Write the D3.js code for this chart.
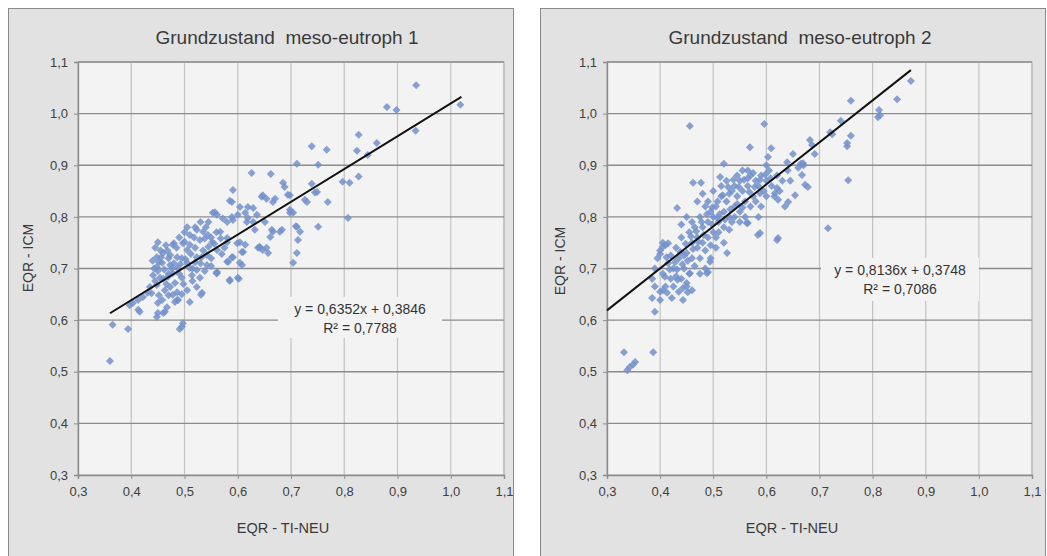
<!DOCTYPE html>
<html>
<head>
<meta charset="utf-8">
<script src="https://cdn.jsdelivr.net/npm/d3@7"></script>
<style>
  body { margin: 0; background: #fff; }
  svg { display: block; font-family: "Liberation Sans", Arial, sans-serif; }
</style>
</head>
<body>
<div id="chart"></div>
<script>
const axisTicks = [0.3, 0.4, 0.5, 0.6, 0.7, 0.8, 0.9, 1.0, 1.1];
const titles = ["Grundzustand  meso-eutroph 1", "Grundzustand  meso-eutroph 2"];
const xLabel = "EQR - TI-NEU";
const yLabel = "EQR - ICM";

// regression: [slope, intercept, r2, xFrom, xTo]
const fit1 = [0.6352, 0.3846, 0.7788, 0.36, 1.02];
const fit2 = [0.8136, 0.3748, 0.7086, 0.30, 0.872];

const points1 = [
  [0.935,1.055],[1.018,1.017],[0.880,1.013],[0.898,1.007],[0.934,0.967],[0.827,0.959],[0.861,0.943],
  [0.824,0.928],[0.844,0.920],[0.739,0.937],[0.767,0.930],[0.711,0.903],[0.751,0.901],[0.827,0.878],
  [0.797,0.868],[0.810,0.866],[0.739,0.864],[0.626,0.885],[0.662,0.883],[0.685,0.866],[0.688,0.858],
  [0.745,0.847],[0.726,0.833],[0.769,0.829],[0.694,0.843],[0.591,0.852],[0.645,0.839],[0.654,0.835],
  [0.666,0.829],[0.698,0.814],[0.704,0.808],[0.807,0.798],[0.751,0.781],[0.711,0.781],[0.717,0.771],
  [0.713,0.755],[0.711,0.730],[0.704,0.711],[0.641,0.742],[0.654,0.740],[0.666,0.771],[0.683,0.775],
  [0.632,0.775],[0.629,0.790],[0.553,0.808],[0.589,0.829],[0.749,0.848],[0.698,0.842],[0.585,0.831],
  [0.604,0.819],[0.619,0.819],[0.629,0.817],[0.730,0.829],[0.572,0.797],[0.589,0.800],[0.614,0.808],
  [0.619,0.798],[0.698,0.808],[0.709,0.782],[0.661,0.761],[0.679,0.771],[0.638,0.740],[0.647,0.736],
  [0.657,0.730],[0.580,0.751],[0.604,0.751],[0.610,0.732],[0.591,0.722],[0.580,0.713],[0.604,0.711],
  [0.647,0.842],[0.670,0.835],[0.557,0.809],[0.561,0.804],[0.600,0.804],[0.636,0.804],[0.580,0.790],
  [0.591,0.794],[0.617,0.790],[0.651,0.790],[0.664,0.775],[0.523,0.775],[0.535,0.771],[0.544,0.765],
  [0.567,0.771],[0.510,0.765],[0.450,0.751],[0.480,0.749],[0.478,0.746],[0.497,0.749],[0.510,0.746],
  [0.529,0.755],[0.552,0.751],[0.580,0.759],[0.599,0.749],[0.614,0.746],[0.642,0.740],[0.448,0.722],
  [0.460,0.730],[0.473,0.726],[0.486,0.722],[0.505,0.736],[0.523,0.722],[0.542,0.726],[0.561,0.736],
  [0.589,0.722],[0.608,0.732],[0.448,0.703],[0.458,0.711],[0.473,0.707],[0.486,0.701],[0.505,0.711],
  [0.510,0.701],[0.523,0.697],[0.542,0.707],[0.561,0.693],[0.582,0.713],[0.608,0.707],[0.441,0.687],
  [0.454,0.682],[0.469,0.684],[0.478,0.691],[0.495,0.682],[0.514,0.687],[0.529,0.682],[0.561,0.691],
  [0.585,0.678],[0.600,0.682],[0.435,0.664],[0.448,0.668],[0.463,0.658],[0.473,0.664],[0.486,0.654],
  [0.505,0.658],[0.523,0.664],[0.422,0.645],[0.431,0.653],[0.458,0.639],[0.478,0.649],[0.488,0.639],
  [0.510,0.635],[0.533,0.653],[0.403,0.633],[0.450,0.633],[0.467,0.625],[0.482,0.635],[0.416,0.616],
  [0.450,0.614],[0.463,0.616],[0.445,0.740],[0.455,0.735],[0.465,0.745],[0.440,0.715],[0.450,0.695],
  [0.470,0.720],[0.490,0.760],[0.500,0.770],[0.520,0.780],[0.530,0.790],[0.540,0.780],[0.550,0.760],
  [0.560,0.770],[0.575,0.740],[0.520,0.740],[0.535,0.735],[0.550,0.720],[0.495,0.720],[0.480,0.710],
  [0.490,0.690],[0.515,0.700],[0.530,0.710],[0.460,0.680],[0.470,0.690],
  [0.443,0.700],[0.452,0.712],[0.462,0.698],[0.476,0.700],[0.492,0.708],[0.502,0.718],[0.512,0.728],
  [0.520,0.712],[0.532,0.722],[0.545,0.742],[0.556,0.748],[0.538,0.758],[0.518,0.760],[0.500,0.752],
  [0.485,0.740],[0.468,0.735],[0.456,0.722],[0.445,0.676],[0.466,0.670],[0.482,0.672],[0.498,0.670],
  [0.515,0.676],[0.538,0.695],[0.550,0.705],[0.570,0.728],[0.568,0.758],[0.545,0.790],[0.505,0.780],
  [0.438,0.652],[0.452,0.648],[0.470,0.648],[0.495,0.650],
  [0.360,0.521],[0.365,0.591],[0.394,0.583],[0.495,0.587],[0.491,0.583],[0.448,0.606],[0.460,0.614],
  [0.413,0.620],[0.531,0.649],[0.585,0.676],[0.602,0.680],[0.560,0.691],[0.486,0.639],[0.497,0.594],
  [0.413,0.639],[0.397,0.629]
];

const points2 = [
  [0.872,1.063],[0.846,1.028],[0.759,1.025],[0.812,1.007],[0.814,0.997],[0.810,0.993],[0.740,0.986],
  [0.720,0.964],[0.724,0.960],[0.759,0.957],[0.752,0.943],[0.752,0.937],[0.754,0.871],[0.716,0.778],
  [0.456,0.976],[0.596,0.980],[0.682,0.949],[0.686,0.939],[0.691,0.922],[0.665,0.903],[0.650,0.922],
  [0.569,0.935],[0.609,0.933],[0.603,0.916],[0.520,0.903],[0.462,0.866],[0.477,0.866],[0.432,0.817],
  [0.513,0.877],[0.667,0.881],[0.673,0.862],[0.678,0.858],[0.654,0.842],[0.641,0.829],[0.620,0.755],
  [0.584,0.765],[0.563,0.788],[0.639,0.906],[0.669,0.904],[0.622,0.833],[0.622,0.759],[0.588,0.769],
  [0.620,0.856],[0.616,0.846],[0.588,0.846],
  [0.332,0.538],[0.387,0.538],[0.338,0.503],[0.343,0.509],[0.349,0.514],[0.353,0.519],[0.390,0.616],
  [0.400,0.639],[0.385,0.643],[0.405,0.658],[0.413,0.653],[0.422,0.643],[0.443,0.639],[0.460,0.658],
  [0.443,0.662],[0.433,0.678],[0.450,0.672],[0.405,0.742],[0.415,0.749],[0.400,0.728],[0.490,0.693],
  [0.494,0.713],[0.526,0.730],[0.565,0.788],[0.409,0.684],[0.488,0.691],[0.456,0.691],[0.452,0.654],
  [0.385,0.680],[0.390,0.700],[0.395,0.720],[0.400,0.735],[0.405,0.690],[0.410,0.665],[0.415,0.710],
  [0.420,0.680],[0.400,0.655],[0.390,0.665],[0.410,0.745],[0.420,0.725],[0.405,0.750],
  [0.425,0.700],[0.430,0.740],[0.435,0.720],[0.440,0.760],[0.445,0.700],[0.450,0.730],[0.455,0.770],
  [0.460,0.750],[0.430,0.685],[0.440,0.680],[0.450,0.665],[0.455,0.690],[0.440,0.785],[0.450,0.800],
  [0.460,0.790],[0.425,0.665],[0.435,0.655],[0.445,0.725],[0.460,0.720],[0.465,0.705],
  [0.465,0.780],[0.470,0.760],[0.475,0.800],[0.480,0.780],[0.485,0.820],[0.490,0.790],[0.495,0.810],
  [0.500,0.770],[0.470,0.740],[0.480,0.750],[0.490,0.760],[0.475,0.720],[0.485,0.735],[0.495,0.745],
  [0.470,0.830],[0.480,0.845],[0.490,0.830],[0.500,0.800],[0.500,0.850],[0.485,0.700],[0.495,0.720],
  [0.475,0.690],
  [0.505,0.820],[0.510,0.790],[0.515,0.840],[0.520,0.810],[0.525,0.830],[0.530,0.800],[0.535,0.850],
  [0.540,0.820],[0.505,0.760],[0.510,0.770],[0.520,0.780],[0.530,0.775],[0.515,0.860],[0.525,0.870],
  [0.530,0.845],[0.540,0.860],[0.505,0.740],[0.520,0.750],[0.535,0.790],[0.540,0.800],
  [0.545,0.840],[0.550,0.870],[0.555,0.850],[0.560,0.830],[0.565,0.860],[0.570,0.880],[0.575,0.840],
  [0.580,0.870],[0.550,0.810],[0.560,0.800],[0.570,0.820],[0.545,0.880],[0.555,0.890],[0.565,0.890],
  [0.575,0.885],[0.580,0.830],[0.550,0.790],
  [0.585,0.860],[0.590,0.880],[0.595,0.850],[0.600,0.870],[0.605,0.890],[0.610,0.860],[0.620,0.880],
  [0.590,0.820],[0.600,0.840],[0.615,0.840],[0.585,0.800],[0.600,0.900],
  [0.630,0.870],[0.640,0.890],[0.660,0.895],[0.670,0.900],[0.625,0.850],[0.635,0.820],[0.645,0.870],
  [0.412,0.722],[0.418,0.698],[0.428,0.712],[0.438,0.732],[0.448,0.748],[0.458,0.762],[0.468,0.772],
  [0.478,0.790],[0.488,0.805],[0.498,0.818],[0.508,0.830],[0.518,0.842],[0.528,0.858],[0.538,0.872],
  [0.548,0.858],[0.558,0.872],[0.568,0.848],[0.578,0.858],[0.588,0.872],[0.598,0.882],[0.608,0.875],
  [0.512,0.805],[0.522,0.795],[0.532,0.815],[0.545,0.825],[0.555,0.818],[0.482,0.765],[0.472,0.752],
  [0.462,0.738],[0.452,0.715],[0.442,0.708],[0.432,0.698],[0.498,0.785],[0.508,0.798],[0.565,0.875]
];

const W = 1047, H = 556;
const svg = d3.select("#chart").append("svg").attr("width", W).attr("height", H);

const fmt = d => d.toFixed(1).replace(".", ",");
const fmt4 = d => d.toFixed(4).replace(".", ",");

function drawPanel(cfg, points, fit, title) {
  const g = svg.append("g");

  g.append("rect")
    .attr("x", cfg.frame[0] + 0.5).attr("y", cfg.frame[1] + 0.5)
    .attr("width", cfg.frame[2]).attr("height", cfg.frame[3])
    .attr("fill", "#e2e2e2").attr("stroke", "#8a8a8a");

  const x = d3.scaleLinear().domain([0.3, 1.1]).range([cfg.plot[0], cfg.plot[2]]);
  const y = d3.scaleLinear().domain([0.3, 1.1]).range([cfg.plot[3], cfg.plot[1]]);

  g.append("rect")
    .attr("x", cfg.plot[0]).attr("y", cfg.plot[1])
    .attr("width", cfg.plot[2] - cfg.plot[0]).attr("height", cfg.plot[3] - cfg.plot[1])
    .attr("fill", "#f3f3f3").attr("stroke", "#a8a8a8");

  // vertical grid
  g.append("g").selectAll("line").data(axisTicks.slice(1)).join("line")
    .attr("x1", d => x(d)).attr("x2", d => x(d))
    .attr("y1", cfg.plot[1]).attr("y2", cfg.plot[3])
    .attr("stroke", "#c2c2c2").attr("stroke-width", 1.2);

  // horizontal grid
  g.append("g").selectAll("line").data(axisTicks.slice(1)).join("line")
    .attr("x1", cfg.plot[0]).attr("x2", cfg.plot[2])
    .attr("y1", d => y(d)).attr("y2", d => y(d))
    .attr("stroke", "#8c8c8c").attr("stroke-width", 1.4);

  const xAxis = g.append("g")
    .attr("transform", "translate(0," + cfg.plot[3] + ")")
    .call(d3.axisBottom(x).tickValues(axisTicks).tickFormat(fmt).tickSize(4).tickPadding(8));
  const yAxis = g.append("g")
    .attr("transform", "translate(" + cfg.plot[0] + ",0)")
    .call(d3.axisLeft(y).tickValues(axisTicks).tickFormat(fmt).tickSize(4).tickPadding(6));
  [xAxis, yAxis].forEach(a => {
    a.select(".domain").attr("stroke", "#8c8c8c").attr("stroke-width", 1.4);
    a.selectAll(".tick line").attr("stroke", "#8c8c8c");
    a.selectAll("text").attr("fill", "#404040").attr("font-size", "13px")
      .attr("font-family", "Liberation Sans, Arial, sans-serif");
  });

  // equation box hides grid
  g.append("rect")
    .attr("x", cfg.eq.x).attr("y", cfg.eq.y).attr("width", cfg.eq.w).attr("height", cfg.eq.h)
    .attr("fill", "#f3f3f3");

  const diamond = d3.symbol().type(d3.symbolSquare).size(32);
  g.append("g").selectAll("path").data(points).join("path")
    .attr("d", diamond)
    .attr("transform", d => "translate(" + x(d[0]) + "," + y(d[1]) + ") rotate(45)")
    .attr("fill", "#7390cb").attr("fill-opacity", 0.85);

  const line = d3.line().x(d => x(d)).y(d => y(fit[0] * d + fit[1]));
  g.append("path")
    .datum([fit[3], fit[4]])
    .attr("d", line)
    .attr("fill", "none").attr("stroke", "#111").attr("stroke-width", 2);

  const cx = cfg.eq.x + cfg.eq.w / 2;
  g.append("text").attr("x", cx).attr("y", cfg.eq.y + 17)
    .attr("text-anchor", "middle").attr("font-size", "14px").attr("fill", "#333")
    .text("y = " + fmt4(fit[0]) + "x + " + fmt4(fit[1]));
  g.append("text").attr("x", cx).attr("y", cfg.eq.y + 36)
    .attr("text-anchor", "middle").attr("font-size", "14px").attr("fill", "#333")
    .text("R² = " + fmt4(fit[2]));

  g.append("text").attr("x", cfg.title[0]).attr("y", cfg.title[1])
    .attr("text-anchor", "middle").attr("font-size", "19px").attr("fill", "#3a3a3a")
    .attr("xml:space", "preserve")
    .text(title);

  g.append("text").attr("x", cfg.xTitle[0]).attr("y", cfg.xTitle[1])
    .attr("text-anchor", "middle").attr("font-size", "14.5px").attr("fill", "#3a3a3a")
    .text(xLabel);

  g.append("text")
    .attr("transform", "translate(" + cfg.yTitle[0] + "," + cfg.yTitle[1] + ") rotate(-90)")
    .attr("text-anchor", "middle").attr("dy", "0.35em")
    .attr("font-size", "14px").attr("fill", "#3a3a3a")
    .text(yLabel);
}

drawPanel({
  frame: [8, 8, 505, 560],
  plot: [78, 62, 504, 475],
  eq: { x: 278, y: 297, w: 164, h: 41 },
  title: [287, 44],
  xTitle: [283, 533],
  yTitle: [28, 258]
}, points1, fit1, titles[0]);

drawPanel({
  frame: [540, 8, 505, 560],
  plot: [607, 62, 1032, 475],
  eq: { x: 821, y: 258, w: 158, h: 43 },
  title: [800, 44],
  xTitle: [792, 533],
  yTitle: [560, 261]
}, points2, fit2, titles[1]);
</script>
</body>
</html>
